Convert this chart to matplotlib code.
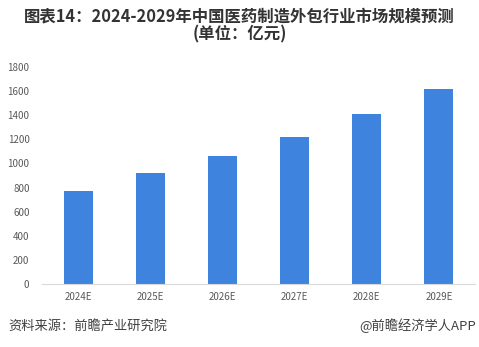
import matplotlib.pyplot as plt

plt.rcParams['font.family'] = ['Noto Sans CJK SC', 'DejaVu Sans']

# 市场规模预测数据（亿元）
years = ['2024E', '2025E', '2026E', '2027E', '2028E', '2029E']
market_size = [774, 923, 1061, 1219, 1410, 1617]
y_ticks = [0, 200, 400, 600, 800, 1000, 1200, 1400, 1600, 1800]

fig = plt.figure(figsize=(4.79, 3.47), dpi=100)
ax = fig.add_axes([42 / 479, 63 / 347, 433 / 479, 217 / 347])

ax.bar(years, market_size, width=0.4, color='#3E84DE')

ax.set_ylim(0, 1800)
ax.set_xlim(-0.5, len(years) - 0.5)
ax.set_yticks(y_ticks)
ax.tick_params(axis='both', length=0, labelsize=7, colors='#595959')
ax.tick_params(axis='y', pad=9)
ax.tick_params(axis='x', pad=6)
for s in ['top', 'right', 'left']:
    ax.spines[s].set_visible(False)
ax.spines['bottom'].set_color('#D9D9D9')
ax.spines['bottom'].set_linewidth(0.8)

# 标题
fig.text(0.5, 1 - 16 / 347, '图表14：2024-2029年中国医药制造外包行业市场规模预测',
         ha='center', va='center', fontsize=11.8, fontweight='bold', color='#333333')
fig.text(0.5, 1 - 34 / 347, '(单位：亿元)',
         ha='center', va='center', fontsize=11.8, fontweight='bold', color='#333333')

# 底部来源
fig.text(8 / 479, 1 - 326 / 347, '资料来源：前瞻产业研究院',
         ha='left', va='center', fontsize=9.5, color='#404040')
fig.text(476 / 479, 1 - 326 / 347, '@前瞻经济学人APP',
         ha='right', va='center', fontsize=9.5, color='#404040')

fig.savefig('out.png', dpi=100)
